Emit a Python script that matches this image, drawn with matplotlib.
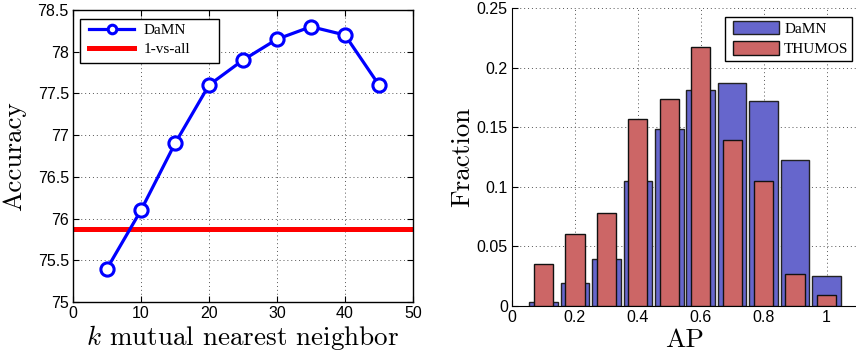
import matplotlib
matplotlib.use("Agg")
import matplotlib.pyplot as plt
from matplotlib.patches import Rectangle
import numpy as np

plt.rcParams['mathtext.fontset'] = 'cm'

# Left chart data
k_values = [5, 10, 15, 20, 25, 30, 35, 40, 45]
damn_acc = [75.4, 76.1, 76.9, 77.6, 77.9, 78.15, 78.3, 78.2, 77.6]
one_vs_all = 75.88

# Right chart data
ap_bins = [0.1, 0.2, 0.3, 0.4, 0.5, 0.6, 0.7, 0.8, 0.9, 1.0]
damn_frac = [0.003, 0.0196, 0.0392, 0.1048, 0.1488, 0.181, 0.187, 0.1724, 0.1222, 0.0249]
thumos_frac = [0.035, 0.0608, 0.0785, 0.1567, 0.1738, 0.2175, 0.1393, 0.1048, 0.0266, 0.0092]

W, H = 856, 356
fig = plt.figure(figsize=(W / 100, H / 100), dpi=100)

tickfont = dict(family='Liberation Sans', size=11.5)
labfont = 'cmr10'
legprop = dict(family='Liberation Serif', size=11)


def add_frame(ax, x0, y0, x1, y1):
    """Legend frame given in pixel coords (top-left origin)."""
    r = Rectangle((x0 / W, 1 - y1 / H), (x1 - x0) / W, (y1 - y0) / H,
                  transform=fig.transFigure, facecolor='white',
                  edgecolor='black', lw=1.0, zorder=4, clip_on=False)
    ax.add_patch(r)


# ---- Left axes ----
ax1 = fig.add_axes([73 / W, 1 - 302 / H, (413 - 73) / W, (302 - 10) / H])
ax1.plot(k_values, damn_acc, color='#0000ff', lw=2.3, marker='o', ms=9.5,
         mfc='white', mew=2.2, mec='#0000ff', label='DaMN', zorder=3)
ax1.axhline(one_vs_all, color='#ff0000', lw=3.6, label='1-vs-all', zorder=2)
ax1.set_xlim(0, 50)
ax1.set_ylim(75, 78.5)
ax1.set_xticks(np.arange(0, 51, 10))
ax1.set_yticks(np.arange(75, 78.51, 0.5))
ax1.set_xticklabels([f'{v:g}' for v in np.arange(0, 51, 10)], **tickfont)
ax1.set_yticklabels([f'{v:g}' for v in np.arange(75, 78.51, 0.5)], **tickfont)
ax1.tick_params(direction='in', length=4, width=0.8, top=True, right=True, pad=3)
ax1.grid(True, linestyle=(0, (1, 3)), color='#555555', lw=0.7)
for s in ax1.spines.values():
    s.set_linewidth(1.0)
ax1.set_ylabel('Accuracy', family=labfont, size=19.5, labelpad=8)
ax1.set_xlabel(r'$k$ mutual nearest neighbor', family=labfont, size=19.5, labelpad=1)

add_frame(ax1, 79.5, 19, 219, 62.7)
leg1 = ax1.legend(loc='upper left', prop=legprop, frameon=False,
                  borderpad=0, handlelength=2.95, handletextpad=0.6,
                  labelspacing=0.36, borderaxespad=0, markerscale=0.65,
                  bbox_to_anchor=(89 / W, 1 - 23.5 / H),
                  bbox_transform=fig.transFigure)
leg1.set_zorder(5)

# ---- Right axes ----
ax2 = fig.add_axes([512 / W, 1 - 306 / H, (858 - 512) / W, (306 - 8.3) / H])
ax2.bar(ap_bins, damn_frac, width=0.091, color='#6666cc', edgecolor='#222222',
        lw=1.0, label='DaMN', zorder=2)
ax2.bar(ap_bins, thumos_frac, width=0.061, color='#cc6666', edgecolor='#111111',
        lw=1.0, label='THUMOS', zorder=3)
ax2.set_xlim(0, 1.1)
ax2.set_ylim(0, 0.25)
xt = [0, 0.2, 0.4, 0.6, 0.8, 1.0]
yt = [0, 0.05, 0.1, 0.15, 0.2, 0.25]
ax2.set_xticks(xt)
ax2.set_yticks(yt)
ax2.set_xticklabels([f'{v:g}' for v in xt], **tickfont)
ax2.set_yticklabels([f'{v:g}' for v in yt], **tickfont)
ax2.tick_params(direction='in', length=4, width=0.8, pad=3)
ax2.spines['top'].set_visible(False)
ax2.spines['right'].set_visible(False)
ax2.grid(True, linestyle=(0, (1, 3)), color='#555555', lw=0.7, zorder=0)
ax2.set_axisbelow(True)
ax2.set_ylabel('Fraction', family=labfont, size=19.5, labelpad=2)
ax2.set_xlabel('AP', family=labfont, size=19.5, labelpad=2)

add_frame(ax2, 725, 17, 851.7, 61.3)
leg2 = ax2.legend(loc='upper left', prop=legprop, frameon=False,
                  borderpad=0, handlelength=3.0, handleheight=0.95,
                  handletextpad=0.33, labelspacing=0.36, borderaxespad=0,
                  bbox_to_anchor=(733.3 / W, 1 - 21 / H),
                  bbox_transform=fig.transFigure)
leg2.set_zorder(5)

fig.savefig('out.png', dpi=100)
